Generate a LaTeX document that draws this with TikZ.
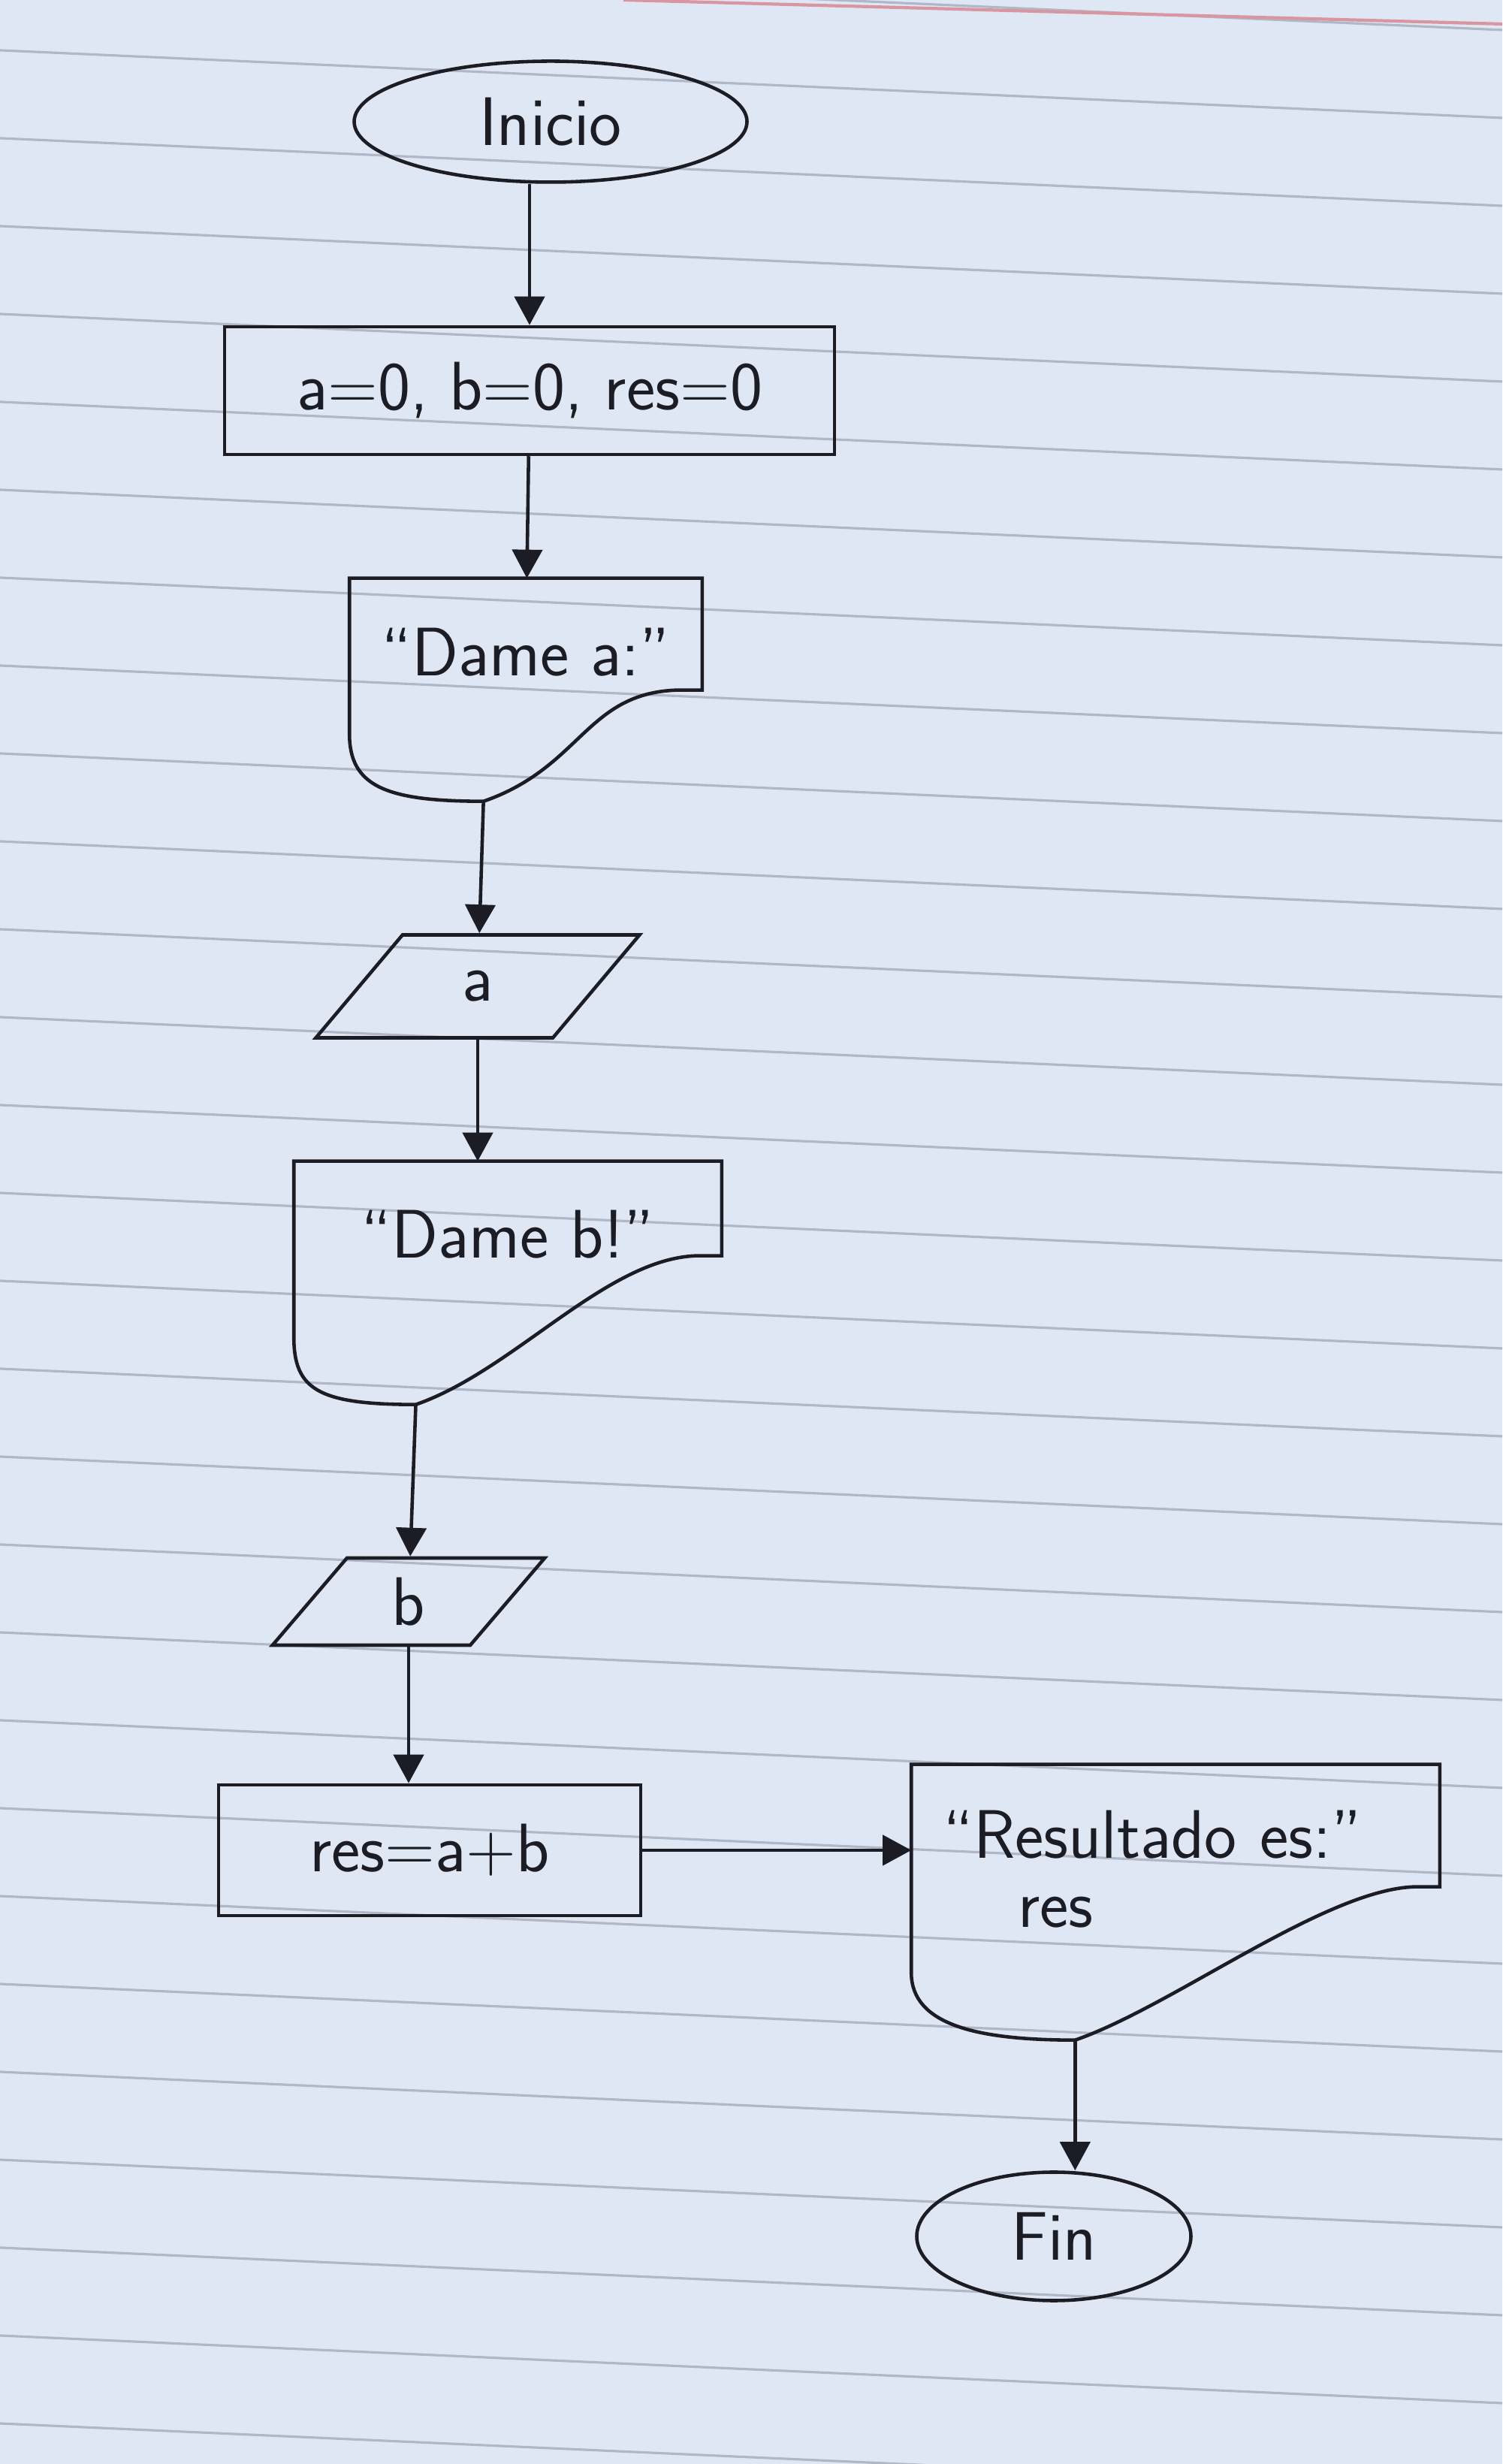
\documentclass[tikz,border=0pt]{standalone}
\usepackage{fontspec}
\usepackage{tikz}
\usetikzlibrary{shapes.geometric}
\usetikzlibrary{positioning}
\usetikzlibrary{arrows.meta}
\usetikzlibrary{calc}
\definecolor{papel}{RGB}{223,231,244}
\definecolor{renglon}{RGB}{176,184,200}
\definecolor{margen}{RGB}{218,150,160}
\definecolor{tinta}{RGB}{28,28,36}
\tikzset{
	every node/.style={
		font=\sffamily\fontsize{26}{30}\selectfont,
		tinta,
		line width=1.3pt},
	term/.style={ellipse, draw},
	proc/.style={rectangle, draw},
	datos/.style={
		trapezium, draw,
		trapezium left angle=60,
		trapezium right angle=120,
		trapezium stretches=true},
	pant/.style={rectangle, inner sep=0pt},
	every edge/.style={
		draw,
		-{Triangle[width=0.4cm,length=0.38cm]},
		line width=1.3pt,
		tinta}
}
% contorno de salida por pantalla: nodo, alto lado derecho, fondo, punto de salida
\newcommand{\pantalla}[4]{%
	\coordinate (#1-b) at ($(#1.north west)!#4!(#1.north east)+(0,-#3)$);
	\draw[tinta, line width=1.3pt] (#1.north west) -- (#1.north east) -- ($(#1.north east)+(0,-#2)$) -- ($(#1.north east)+(-0.35,-#2)$)
		.. controls +(-1.2,-0.05) and +(1.3,0.45) .. (#1-b)
		.. controls +(-1.3,0) and +(0,-0.7) .. ($(#1.north west)+(0,{0.9-#3})$) -- cycle;}

\begin{document}
\begin{tikzpicture}
				\useasboundingbox (0,0) rectangle (20,32.8);
				\fill[papel] (0,0) rectangle (20,32.8);
				\begin{scope}
					\clip (0,0) rectangle (20,32.8);
					\foreach \i in {-1,...,27}
						\draw[renglon, line width=0.9pt] (0,{32.13-1.17*\i}) -- (20,{32.13-1.17*\i-0.9});
					\draw[margen, line width=1.2pt] (8.3,32.8) -- (20,32.48);
				\end{scope}
				\node[term, minimum width=5.23cm, minimum height=1.61cm] (inicio) at (7.33,31.18) {Inicio};
				\node[proc, minimum width=8.12cm, minimum height=1.7cm] (ini) at (7.05,27.6) {a=0, b=0, res=0};
				\node[pant, minimum width=4.65cm, minimum height=1.92cm] (msgA) at (7.0,24.12) {“Dame a:”};
				\node[datos, minimum width=4.32cm, minimum height=1.37cm] (leeA) at (6.36,19.67) {a};
				\node[pant, minimum width=5.65cm, minimum height=1.9cm] (msgB) at (6.76,16.37) {“Dame b!”};
				\node[datos, trapezium left angle=65, trapezium right angle=115, minimum width=3.63cm, minimum height=1.16cm] (leeB) at (5.44,11.48) {b};
				\node[proc, minimum width=5.62cm, minimum height=1.74cm] (suma) at (5.72,8.17) {res=a+b};
				\node[pant, text width=6.19cm, inner xsep=0.4cm, minimum height=2.74cm, align=left] (msgR) at (15.65,7.92) {“Resultado es:”\\[-4pt]\hspace*{1cm}res};
				\node[term, minimum width=3.65cm, minimum height=1.71cm] (fin) at (14.03,3.03) {Fin};
				\pantalla{msgA}{1.49}{2.97}{0.38}
				\pantalla{msgB}{1.26}{3.24}{0.285}
				\pantalla{msgR}{1.63}{3.67}{0.31}
				\draw (inicio.south -| ini.north) edge (ini.north);
				\draw (ini) edge (msgA);
				\draw (msgA-b) edge (leeA);
				\draw (leeA.south) edge (leeA.south |- msgB.north);
				\draw (msgB-b) edge (leeB);
				\draw (leeB.south) edge (leeB.south |- suma.north);
				\draw (suma.east) edge (suma.east -| msgR.west);
				\draw (msgR-b) edge (msgR-b |- fin.north);
\end{tikzpicture}
\end{document}
